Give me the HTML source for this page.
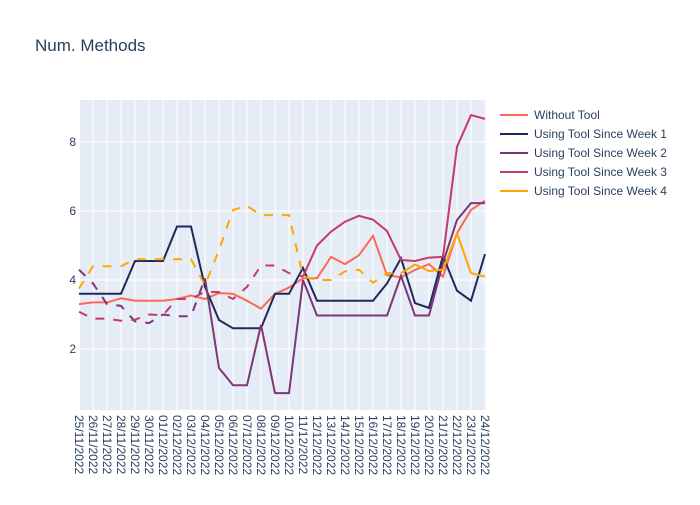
<!DOCTYPE html>
<html><head><meta charset="utf-8"><style>
body{margin:0;background:#fff;font-family:"Liberation Sans",Arial,sans-serif}
svg text{font-family:"Liberation Sans",Arial,sans-serif;fill:#2a3f5f}
</style></head><body>
<svg id="chart" width="700" height="500" xmlns="http://www.w3.org/2000/svg">
<rect width="700" height="500" fill="#fff"/>
<text x="35" y="51" font-size="17">Num. Methods</text>
<rect x="80" y="100" width="406" height="310" fill="#e5ecf6"/>
<g id="grid"></g><g id="series"></g><g id="axes"></g><g id="legend"></g>
</svg>
<script>
const dates=["25/11/2022","26/11/2022","27/11/2022","28/11/2022","29/11/2022","30/11/2022","01/12/2022","02/12/2022","03/12/2022","04/12/2022","05/12/2022","06/12/2022","07/12/2022","08/12/2022","09/12/2022","10/12/2022","11/12/2022","12/12/2022","13/12/2022","14/12/2022","15/12/2022","16/12/2022","17/12/2022","18/12/2022","19/12/2022","20/12/2022","21/12/2022","22/12/2022","23/12/2022","24/12/2022"];
const yTicks=[2,4,6,8];
const seriesNames=["Without Tool","Using Tool Since Week 1","Using Tool Since Week 2","Using Tool Since Week 3","Using Tool Since Week 4"];
const withoutTool=[3.3,3.35,3.35,3.47,3.4,3.4,3.4,3.45,3.55,3.45,3.62,3.6,3.4,3.17,3.6,3.78,4.05,4.05,4.67,4.46,4.72,5.28,4.14,4.08,4.29,4.46,4.1,5.36,6.03,6.3];
const week1=[3.6,3.6,3.6,3.6,4.55,4.55,4.55,5.55,5.55,3.8,2.84,2.6,2.6,2.6,3.6,3.6,4.35,3.4,3.4,3.4,3.4,3.4,3.9,4.63,3.33,3.19,4.7,3.69,3.4,4.75];
const week2=[4.3,3.9,3.3,3.25,2.8,2.75,3.0,2.95,2.95,4.05,1.45,0.95,0.95,2.7,0.72,0.72,4.0,2.97,2.97,2.97,2.97,2.97,2.97,4.12,2.97,2.97,4.5,5.74,6.23,6.23];
const week3=[3.08,2.88,2.88,2.82,2.85,3.0,2.98,3.45,3.45,3.66,3.65,3.45,3.8,4.42,4.42,4.2,4.1,5.0,5.4,5.69,5.86,5.75,5.42,4.58,4.55,4.65,4.67,7.86,8.78,8.67];
const week4=[3.75,4.4,4.4,4.4,4.6,4.6,4.6,4.6,4.6,3.85,4.87,6.03,6.15,5.88,5.88,5.88,4.1,4.0,4.0,4.25,4.3,3.92,4.2,4.2,4.45,4.26,4.3,5.35,4.2,4.1];
const dashUntil=[0,0,9,16,23];
const colors=["#fc6955","#1f2a5c","#7e3678","#c43a6b","#ffa600"];
const allSeries=[withoutTool,week1,week2,week3,week4];
const NS="http://www.w3.org/2000/svg";
const X0=79,DX=14,Y0=418,DY=34.5;
const xs=i=>X0+i*DX, ys=v=>Y0-v*DY;
function mk(t,a,p){const e=document.createElementNS(NS,t);for(const k in a)e.setAttribute(k,a[k]);p.appendChild(e);return e;}
const grid=document.getElementById('grid'),axes=document.getElementById('axes'),ser=document.getElementById('series'),leg=document.getElementById('legend');
dates.forEach((d,i)=>{
 const l=mk('line',{x1:xs(i),x2:xs(i),y1:100,y2:410,stroke:'#fff','stroke-width':1},grid);
 
 
 const t=mk('text',{transform:`translate(${xs(i)-4},415) rotate(90)`,'font-size':12},axes);
 t.textContent=d;
 
 
});
yTicks.forEach(v=>{
 const l=mk('line',{x1:80,x2:486,y1:ys(v),y2:ys(v),stroke:'#fff','stroke-width':1},grid);
 
 
 const t=mk('text',{x:76,y:ys(v)+4,'font-size':12,'text-anchor':'end'},axes);
 t.textContent=v;
 
 
});
allSeries.forEach((s,k)=>{
 const d=dashUntil[k];
 const pts=(a,b)=>s.slice(a,b+1).map((v,j)=>xs(a+j)+','+ys(v)).join(' ');
 if(d>0){
  const p=mk('polyline',{points:pts(0,d),fill:'none',stroke:colors[k],'stroke-width':2,'stroke-dasharray':'9,9'},ser);
  
  
 }
 const p2=mk('polyline',{points:pts(d,s.length-1),fill:'none',stroke:colors[k],'stroke-width':2},ser);
 
 
 const y=115+k*19;
 const ll=mk('line',{x1:500,x2:528,y1:y,y2:y,stroke:colors[k],'stroke-width':2},leg);
 
 
 const lt=mk('text',{x:534,y:y+4,'font-size':12},leg);
 lt.textContent=seriesNames[k];
 
 
});
</script>
</body></html>
